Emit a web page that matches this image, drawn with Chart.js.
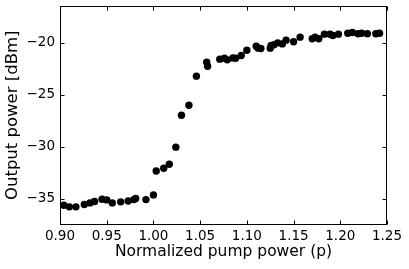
<!DOCTYPE html>
<html>
<head>
<meta charset="utf-8">
<script src="https://cdn.jsdelivr.net/npm/chart.js@4/dist/chart.umd.min.js"></script>
<style>
html,body{margin:0;padding:0;background:#fff;}
#wrap{width:409px;height:269px;}
</style>
</head>
<body>
<div id="wrap"><canvas id="c" width="409" height="269"></canvas></div>
<script>
const pumpPower = [0.904,0.910,0.917,0.926,0.932,0.937,0.945,0.950,0.956,0.965,0.973,0.979,0.981,0.992,1.000,
  1.003,1.011,1.017,1.024,1.030,1.038,1.046,1.057,1.058,1.071,1.076,1.079,1.085,1.088,1.094,1.100,
  1.110,1.112,1.115,1.125,1.126,1.129,1.133,1.138,1.142,1.150,1.157,1.170,1.173,1.177,1.183,1.189,
  1.192,1.198,1.208,1.213,1.219,1.223,1.229,1.238,1.242];
const outputPower = [-35.64,-35.80,-35.80,-35.58,-35.42,-35.29,-35.07,-35.13,-35.42,-35.32,-35.23,-35.10,-35.00,-35.10,-34.65,
  -32.34,-32.08,-31.69,-30.05,-26.97,-26.01,-23.21,-21.86,-22.25,-21.57,-21.48,-21.64,-21.45,-21.48,-21.22,-20.71,
  -20.32,-20.51,-20.55,-20.51,-20.26,-20.19,-20.00,-20.10,-19.74,-19.90,-19.45,-19.61,-19.45,-19.61,-19.16,-19.16,
  -19.29,-19.16,-19.07,-19.00,-19.13,-19.07,-19.13,-19.13,-19.07];
const xTicks = [0.90,0.95,1.00,1.05,1.10,1.15,1.20,1.25];
const yTicks = [-35,-30,-25,-20];
const xLabel = 'Normalized pump power (p)';
const yLabel = 'Output power [dBm]';

const FONT = "'DejaVu Sans', sans-serif";

const framePlugin = {
  id: 'frame',
  afterDraw(chart) {
    const {ctx, chartArea: a, scales} = chart;
    ctx.save();
    ctx.strokeStyle = '#000';
    ctx.lineWidth = 1;
    const L = Math.round(a.left) + 0.5, R = Math.round(a.right) - 0.5;
    const T = Math.round(a.top) + 0.5, B = Math.round(a.bottom) - 0.5;
    ctx.strokeRect(L, T, R - L, B - T);
    const tl = 4;
    ctx.beginPath();
    scales.x.ticks.forEach(t => {
      const px = Math.round(scales.x.getPixelForValue(t.value)) + 0.5;
      ctx.moveTo(px, B); ctx.lineTo(px, B - tl);
      ctx.moveTo(px, T); ctx.lineTo(px, T + tl);
    });
    scales.y.ticks.forEach(t => {
      const py = Math.round(scales.y.getPixelForValue(t.value)) + 0.5;
      ctx.moveTo(L, py); ctx.lineTo(L + tl, py);
      ctx.moveTo(R, py); ctx.lineTo(R - tl, py);
    });
    ctx.stroke();
    ctx.restore();
  }
};

new Chart(document.getElementById('c'), {
  type: 'scatter',
  data: {
    datasets: [{
      data: pumpPower.map((x, i) => ({x: x, y: outputPower[i]})),
      backgroundColor: '#000',
      borderColor: '#000',
      borderWidth: 0,
      pointRadius: 3.7,
      pointHoverRadius: 3.7
    }]
  },
  options: {
    responsive: false,
    animation: false,
    events: [],
    layout: {padding: {top: 6, right: 22, left: 0, bottom: 0}},
    plugins: {legend: {display: false}, tooltip: {enabled: false}},
    scales: {
      x: {
        type: 'linear',
        min: 0.90, max: 1.25,
        afterBuildTicks: s => { s.ticks = xTicks.map(v => ({value: v})); },
        afterFit: s => { s.height = 44.5; s.paddingLeft = 0; s.paddingRight = 0; },
        grid: {display: false, drawTicks: false},
        border: {display: false},
        ticks: {
          color: '#000',
          padding: 4,
          maxRotation: 0,
          autoSkip: false,
          font: {family: FONT, size: 13.5},
          callback: v => v.toFixed(2)
        },
        title: {
          display: true, text: xLabel, color: '#000',
          font: {family: FONT, size: 15.5},
          padding: {top: 0, bottom: 8}
        }
      },
      y: {
        type: 'linear',
        min: -37.5, max: -16.45,
        afterBuildTicks: s => { s.ticks = yTicks.map(v => ({value: v})); },
        afterFit: s => { s.width = 60; s.paddingTop = 0; s.paddingBottom = 0; },
        grid: {display: false, drawTicks: false},
        border: {display: false},
        ticks: {
          color: '#000',
          padding: 5,
          autoSkip: false,
          font: {family: FONT, size: 13.5},
          callback: v => (v < 0 ? '\u2212' : '') + Math.abs(v)
        },
        title: {
          display: true, text: yLabel, color: '#000',
          font: {family: FONT, size: 16.5},
          padding: {top: 3, bottom: 0}
        }
      }
    }
  },
  plugins: [framePlugin]
});
</script>
</body>
</html>
